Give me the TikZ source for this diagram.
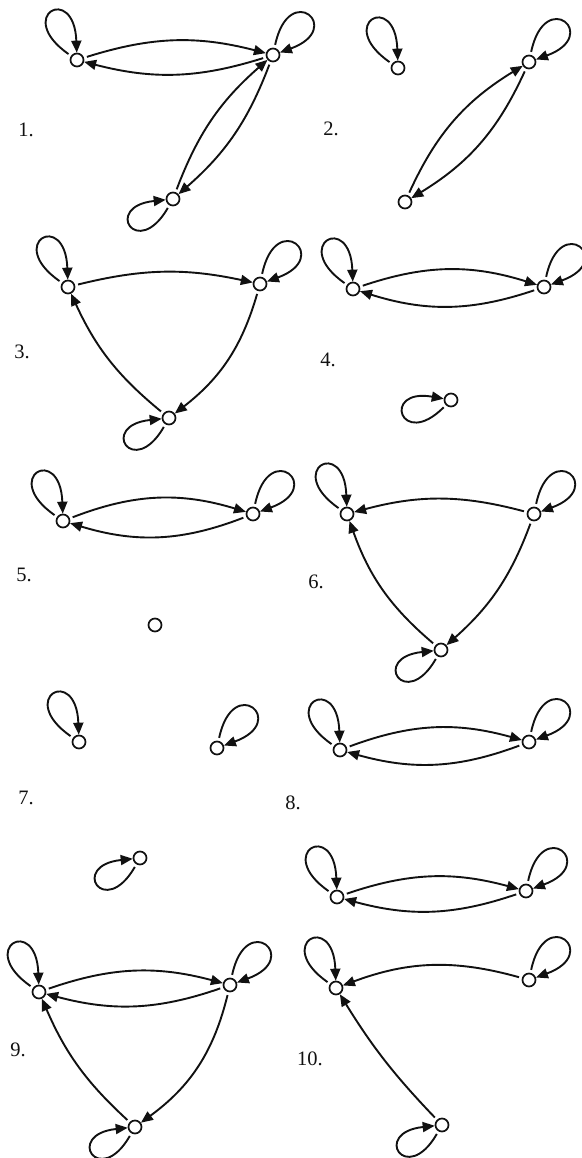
\documentclass[tikz,border=0pt]{standalone}
\usepackage{fontspec}
\setmainfont{Liberation Serif}
\usetikzlibrary{arrows.meta}
\definecolor{Ink}{HTML}{111111}
\tikzset{
  vtx/.style={circle,draw=Ink,fill=white,line width=1.7pt,minimum size=13pt,inner sep=0pt},
  num/.style={font=\fontsize{20.5}{24}\selectfont,text=Ink},
  arr/.style={-{Triangle[length=12pt,width=10pt]},draw=Ink,line width=1.9pt,shorten <=3pt},
  loopul/.style={out=145,in=92,min distance=70pt},
  loopur/.style={out=78,in=20,min distance=70pt},
  loopll/.style={out=240,in=186,min distance=64pt}
}
\begin{document}
\begin{tikzpicture}[x=1pt,y=1pt]
  \useasboundingbox (0,0) rectangle (581,-1158);

  \node[num] (n1) at (26,-130) {1.};
  \node[vtx] (a1) at (77,-60) {};
  \node[vtx] (b1) at (273,-55) {};
  \node[vtx] (c1) at (173,-199) {};
  \draw[arr] (a1) to[loopul] (a1);
  \draw[arr] (b1) to[loopur] (b1);
  \draw[arr] (c1) to[loopll] (c1);
  \draw[arr] (a1) to[bend left=16] (b1);
  \draw[arr] (b1) to[bend left=16] (a1);
  \draw[arr] (c1) to[bend left=14] (b1);
  \draw[arr] (b1) to[bend left=14] (c1);

  \node[num] (n2) at (331,-129) {2.};
  \node[vtx] (a2) at (398,-68) {};
  \node[vtx] (b2) at (529,-62) {};
  \node[vtx] (c2) at (405,-202) {};
  \draw[arr] (a2) to[loopul] (a2);
  \draw[arr] (b2) to[loopur] (b2);
  \draw[arr] (c2) to[bend left=17] (b2);
  \draw[arr] (b2) to[bend left=17] (c2);

  \node[num] (n3) at (22,-352) {3.};
  \node[vtx] (a3) at (68,-287) {};
  \node[vtx] (b3) at (260,-284) {};
  \node[vtx] (c3) at (169,-418) {};
  \draw[arr] (a3) to[loopul] (a3);
  \draw[arr] (b3) to[loopur] (b3);
  \draw[arr] (c3) to[loopll] (c3);
  \draw[arr] (a3) to[bend left=13] (b3);
  \draw[arr] (b3) to[bend left=18] (c3);
  \draw[arr] (c3) to[bend left=13] (a3);

  \node[num] (n4) at (328,-360) {4.};
  \node[vtx] (a4) at (353,-289) {};
  \node[vtx] (b4) at (544,-287) {};
  \node[vtx] (c4) at (451,-400) {};
  \draw[arr] (a4) to[loopul] (a4);
  \draw[arr] (b4) to[loopur] (b4);
  \draw[arr] (c4) to[loopll,out=225,in=170] (c4);
  \draw[arr] (a4) to[bend left=18] (b4);
  \draw[arr] (b4) to[bend left=18] (a4);

  \node[num] (n5) at (24,-575) {5.};
  \node[vtx] (a5) at (63,-521) {};
  \node[vtx] (b5) at (253,-514) {};
  \node[vtx] (c5) at (155,-625) {};
  \draw[arr] (a5) to[loopul] (a5);
  \draw[arr] (b5) to[loopur] (b5);
  \draw[arr] (a5) to[bend left=19] (b5);
  \draw[arr] (b5) to[bend left=19] (a5);

  \node[num] (n6) at (316,-582) {6.};
  \node[vtx] (a6) at (347,-514) {};
  \node[vtx] (b6) at (534,-514) {};
  \node[vtx] (c6) at (441,-650) {};
  \draw[arr] (a6) to[loopul] (a6);
  \draw[arr] (b6) to[loopur] (b6);
  \draw[arr] (c6) to[loopll] (c6);
  \draw[arr] (b6) to[bend right=15] (a6);
  \draw[arr] (b6) to[bend left=14] (c6);
  \draw[arr] (c6) to[bend left=15] (a6);

  \node[num] (n7) at (26,-798) {7.};
  \node[vtx] (a7) at (79,-742) {};
  \node[vtx] (b7) at (217,-748) {};
  \node[vtx] (c7) at (140,-858) {};
  \draw[arr] (a7) to[loopul] (a7);
  \draw[arr] (b7) to[loopur] (b7);
  \draw[arr] (c7) to[loopll] (c7);

  \node[num] (n8) at (293,-803) {8.};
  \node[vtx] (a8) at (340,-750) {};
  \node[vtx] (b8) at (529,-742) {};
  \node[vtx] (c8) at (337,-897) {};
  \node[vtx] (d8) at (526,-891) {};
  \draw[arr] (a8) to[loopul] (a8);
  \draw[arr] (b8) to[loopur] (b8);
  \draw[arr] (c8) to[loopul] (c8);
  \draw[arr] (d8) to[loopur] (d8);
  \draw[arr] (a8) to[bend left=18] (b8);
  \draw[arr] (b8) to[bend left=18] (a8);
  \draw[arr] (c8) to[bend left=17] (d8);
  \draw[arr] (d8) to[bend left=17] (c8);

  \node[num] (n9) at (18,-1050) {9.};
  \node[vtx] (a9) at (39,-992) {};
  \node[vtx] (b9) at (230,-985) {};
  \node[vtx] (c9) at (135,-1127) {};
  \draw[arr] (a9) to[loopul] (a9);
  \draw[arr] (b9) to[loopur] (b9);
  \draw[arr] (c9) to[loopll] (c9);
  \draw[arr] (a9) to[bend left=17] (b9);
  \draw[arr] (b9) to[bend left=17] (a9);
  \draw[arr] (b9) to[bend left=20] (c9);
  \draw[arr] (c9) to[bend left=12] (a9);

  \node[num] (n10) at (310,-1059) {10.};
  \node[vtx] (a10) at (336,-988) {};
  \node[vtx] (b10) at (529,-980) {};
  \node[vtx] (c10) at (442,-1125) {};
  \draw[arr] (a10) to[loopul] (a10);
  \draw[arr] (b10) to[loopur] (b10);
  \draw[arr] (c10) to[loopll] (c10);
  \draw[arr] (b10) to[bend right=18] (a10);
  \draw[arr] (c10) to[bend left=6] (a10);
\end{tikzpicture}
\end{document}
